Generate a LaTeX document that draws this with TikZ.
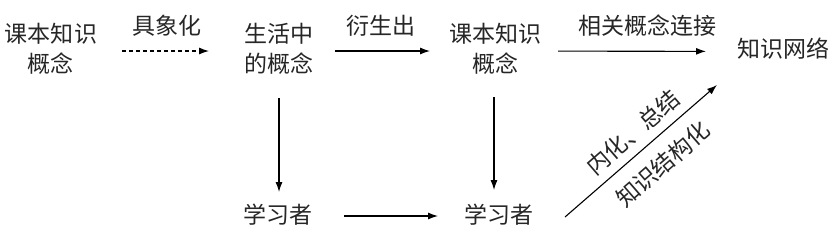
\documentclass[tikz,border=0pt]{standalone}
\usepackage{fontspec}
\setmainfont{Noto Sans CJK SC}
\usetikzlibrary{arrows.meta}
\tikzset{
  lbl/.style={inner sep=0pt, align=center, font=\fontsize{23}{30}\selectfont, text=black!85},
  conn/.style={line width=1.1pt, -{Latex[length=10pt,width=7pt]}},
  arrlbl/.style={inner sep=0pt, font=\fontsize{23}{30}\selectfont, text=black!85}
}
\begin{document}
\begin{tikzpicture}[x=1pt,y=-1pt]
\useasboundingbox (0,0) rectangle (837,231);
\node[lbl] (n1) at (51,48.5) {课本知识\\概念};
\node[lbl] (n2) at (279,48.5) {生活中\\的概念};
\node[lbl] (n3) at (495,48.5) {课本知识\\概念};
\node[lbl] (n4) at (783,49) {知识网络};
\node[lbl] (n5) at (278,214.5) {学习者};
\node[lbl] (n6) at (499,214.5) {学习者};

\draw[conn, dash pattern=on 4pt off 3pt, shorten <=71pt, shorten >=70pt]
  ([yshift=-2.5pt]n1.center) -- node[arrlbl, above=14pt, xshift=2pt] {具象化} ([yshift=-2.5pt]n2.center);
\draw[conn, shorten <=56pt, shorten >=65pt]
  ([yshift=-2.5pt]n2.center) -- node[arrlbl, above=14pt, xshift=-6pt] {衍生出} ([yshift=-2.5pt]n3.center);
\draw[conn, shorten <=63pt, shorten >=77pt]
  ([yshift=-2.5pt]n3.center) -- node[arrlbl, above=14pt, xshift=8pt] {相关概念连接} ([yshift=-2.5pt]n4.center);
\draw[conn, shorten <=49.5pt, shorten >=22.5pt]
  (n2.center) -- (n2.center |- n5.center);
\draw[conn, shorten <=48.5pt, shorten >=24.5pt]
  ([xshift=-1pt]n3.center) -- ([xshift=-1pt]n3.center |- n6.center);
\draw[conn, shorten <=66pt, shorten >=61pt]
  ([yshift=-1.5pt]n5.center) -- ([yshift=-1.5pt]n6.center);
\draw[conn]
  ([shift={(66,2.5)}]n6.center) -- node[arrlbl, sloped, pos=0.53, above=8pt] {内化、总结}
  node[arrlbl, sloped, pos=0.54, below=13pt] {知识结构化} ([shift={(-66,36)}]n4.center);
\end{tikzpicture}
\end{document}
